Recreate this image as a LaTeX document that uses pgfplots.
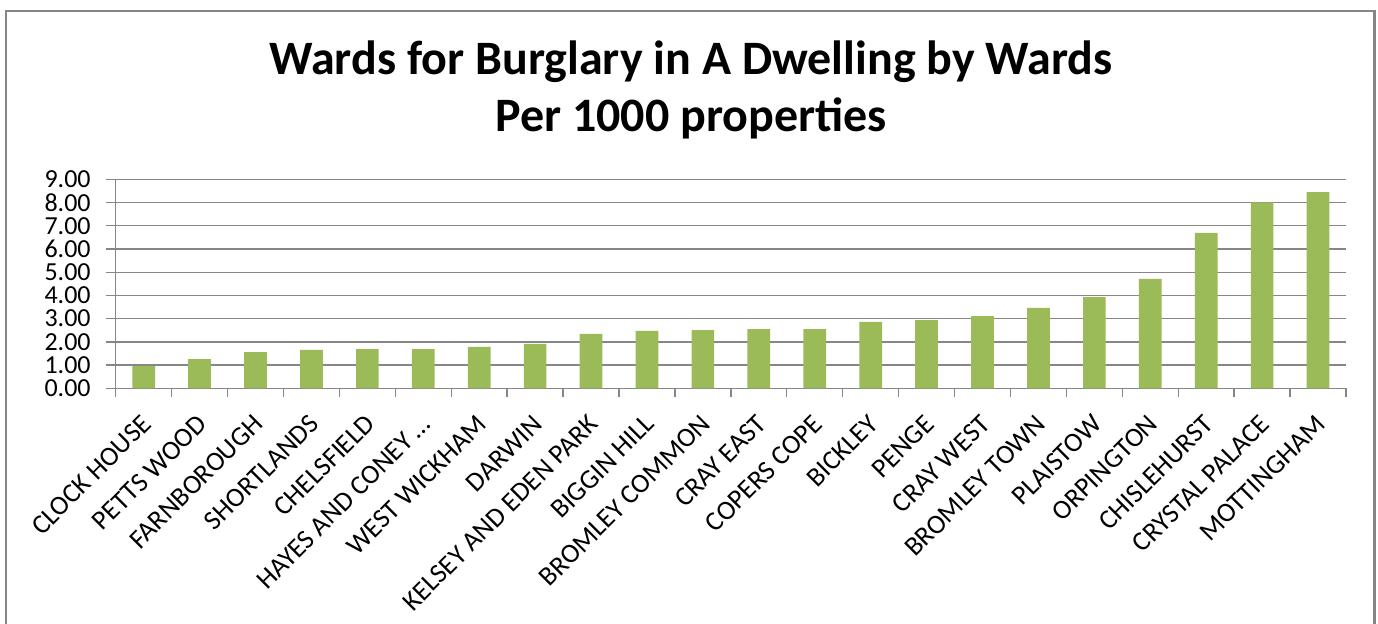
\documentclass[border=0pt]{standalone}
\usepackage{pgfplots}
\pgfplotsset{compat=1.18}
\usepackage{fontspec}
\setmainfont{Carlito}
\definecolor{bargreen}{HTML}{9BBB59}
\definecolor{gridgray}{HTML}{868686}
\begin{document}
\begin{tikzpicture}
\useasboundingbox (-57.85pt,-117.35pt) rectangle (631.15pt,194.15pt);
\draw[gridgray,line width=1.3pt] (-54.85pt,-130pt) rectangle (629.5pt,188.65pt);
\begin{axis}[
  at={(0pt,0pt)}, anchor=south west,
  scale only axis, width=615.15pt, height=104.5pt,
  xmin=-0.5, xmax=21.5, ymin=0, ymax=9,
  ybar, bar width=11.35pt,
  axis lines=left, axis line style={-, gridgray, line width=0.7pt},
  ymajorgrids, grid style={gridgray, line width=0.7pt},
  ytick={0,1,...,9},
  yticklabel style={/pgf/number format/fixed, /pgf/number format/fixed zerofill, /pgf/number format/precision=2, font=\fontsize{13}{15}\selectfont, xshift=-4pt},
  /pgf/number format/assume math mode=true,
  xtick={0,...,21},
  xticklabels={CLOCK HOUSE, PETTS WOOD, FARNBOROUGH, SHORTLANDS, CHELSFIELD, HAYES AND CONEY …, WEST WICKHAM, DARWIN, KELSEY AND EDEN PARK, BIGGIN HILL, BROMLEY COMMON, CRAY EAST, COPERS COPE, BICKLEY, PENGE, CRAY WEST, BROMLEY TOWN, PLAISTOW, ORPINGTON, CHISLEHURST, CRYSTAL PALACE, MOTTINGHAM},
  xticklabel style={yshift=-10.5pt, xshift=1.5pt, rotate=45, anchor=east, inner sep=0pt, font=\fontsize{13.6}{15}\selectfont},
  minor xtick={-0.5,0.5,...,21.5},
  major x tick style={draw=none},
  minor x tick style={gridgray, line width=0.7pt},
  minor tick length=4.5pt,
  major tick length=5pt,
  y tick style={gridgray, line width=0.7pt},
  tick align=outside,
  every axis title/.style={at={(0.4676,1)}, anchor=south, yshift=16.5pt, align=center, font=\fontsize{24}{28.5}\selectfont\bfseries},
  title={Wards for Burglary in A Dwelling by Wards\\Per 1000 properties},
]
\addplot[fill=bargreen, draw=none] coordinates {
(0,0.96) (1,1.26) (2,1.56) (3,1.65) (4,1.69) (5,1.69) (6,1.78) (7,1.91) (8,2.34) (9,2.47) (10,2.51)
(11,2.55) (12,2.55) (13,2.86) (14,2.94) (15,3.11) (16,3.46) (17,3.93) (18,4.71) (19,6.69) (20,8.01) (21,8.45)
};
\end{axis}
\end{tikzpicture}
\end{document}
